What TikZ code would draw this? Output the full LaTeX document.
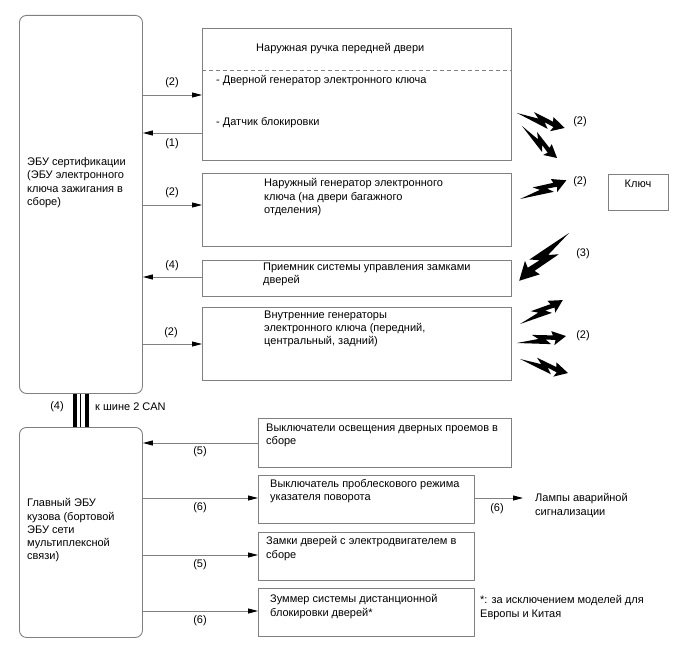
\documentclass[tikz,border=0pt]{standalone}
\usepackage{fontspec}
\setmainfont{Liberation Sans}
\definecolor{framegray}{RGB}{128,128,128}
\usetikzlibrary{arrows.meta,positioning}
\tikzset{
  ecubox/.style={draw=framegray, line width=0.9pt, rounded corners=7pt,
                 anchor=north west, inner sep=0pt, minimum width=123pt},
  partbox/.style={draw=framegray, line width=0.9pt, anchor=north west, inner sep=0pt},
  txt/.style={anchor=north west, inner sep=0pt, align=left},
  num/.style={inner sep=0pt},
  sigline/.style={draw=framegray, line width=0.9pt,
                  -{Triangle[length=10pt,width=5pt,color=black]}},
  bolt/.pic={\fill[black] (0,0) -- (34,6) -- (29,0.5) -- (39,2.5) -- (37,7.5) -- (50,0)
             -- (36,-7) -- (37,-2.5) -- (16,-6) -- (22,-1) -- cycle;}
}
\begin{document}
\begin{tikzpicture}[x=1pt, y=-1pt, font=\fontsize{11}{13.2}\selectfont]
  \useasboundingbox (0,0) rectangle (688,658);
  % Certification ECU and its parts
  \node[ecubox, minimum height=378pt] (certecu) at (19,15) {};
  \node[txt] (certtxt) at (27,157.5)
    {ЭБУ сертификации\\(ЭБУ электронного\\ключа зажигания в\\сборе)};
  \node[partbox, minimum width=309pt, minimum height=132pt] (handle) at (202,28) {};
  \node[txt] (handletitle) at (256,43.5) {Наружная ручка передней двери};
  \node[txt] (doorgen) at (216,75.5) {- Дверной генератор электронного ключа};
  \node[txt] (locksens) at (216,117.5) {- Датчик блокировки};
  \draw[framegray, line width=0.9pt, dash pattern=on 4pt off 3pt]
    (handle.west |- 0,70) -- (handle.east |- 0,70);
  \node[partbox, minimum width=309pt, minimum height=73pt] (trunkgen) at (202,173) {};
  \node[txt] (trunktxt) at (264,178.5)
    {Наружный генератор электронного\\ключа (на двери багажного\\отделения)};
  \node[partbox, minimum width=309pt, minimum height=36pt] (receiver) at (202,260) {};
  \node[txt] (receivertxt) at (263,262.5) {Приемник системы управления замками\\дверей};
  \node[partbox, minimum width=309pt, minimum height=73pt] (innergen) at (202,307) {};
  \node[txt] (innertxt) at (264,310.5)
    {Внутренние генераторы\\электронного ключа (передний,\\центральный, задний)};
  \node[partbox, minimum width=60pt, minimum height=36pt] (key) at (608,174) {};
  \node[num] (keytxt) at (638,184) {Ключ};

  \draw[sigline] (certecu.east |- 0,95) -- (handle.west |- 0,95);
  \node[num] (l1) at (172,83) {(2)};
  \draw[sigline] (handle.west |- 0,133) -- (certecu.east |- 0,133);
  \node[num] (l2) at (172,144) {(1)};
  \draw[sigline] (certecu.east |- 0,205) -- (trunkgen.west |- 0,205);
  \node[num] (l3) at (172,193) {(2)};
  \draw[sigline] (receiver.west |- 0,277) -- (certecu.east |- 0,277);
  \node[num] (l4) at (172,266) {(4)};
  \draw[sigline] (certecu.east |- 0,344) -- (innergen.west |- 0,344);
  \node[num] (l5) at (171,333) {(2)};

  % radio links
  \foreach \ang/\sc/\px/\py in {-17.4/1/517/113, -42.4/0.95/522/126, 22/1/520/199,
      -136.2/1.38/569/233, 29.2/0.98/520/324, 8.1/0.99/517/343, -16.3/1/520/359}
    \pic[rotate=\ang, scale=\sc] at (\px,\py) {bolt};
  \node[num] (w1) at (580,122) {(2)};
  \node[num] (w2) at (580,182) {(2)};
  \node[num] (w3) at (583,254) {(3)};
  \node[num] (w4) at (583,336) {(2)};

  % CAN bus
  \draw[line width=4pt] ([xshift=-5.8pt]certecu.south) -- ([xshift=-5.8pt]certecu.south |- 0,427);
  \draw[line width=1.3pt] ([xshift=-0.5pt]certecu.south) -- ([xshift=-0.5pt]certecu.south |- 0,427);
  \draw[line width=4.5pt] ([xshift=5.8pt]certecu.south) -- ([xshift=5.8pt]certecu.south |- 0,427);
  \node[num] (canno) at (57,407) {(4)};
  \node[num, anchor=west] (cantxt) at (95,407) {к шине 2 CAN};

  % Body ECU and its parts
  \node[ecubox, minimum height=210pt] (bodyecu) at (19,427) {};
  \node[txt] (bodytxt) at (27,498.5)
    {Главный ЭБУ\\кузова (бортовой\\ЭБУ сети\\мультиплексной\\связи)};
  \node[partbox, minimum width=253pt, minimum height=49pt] (courtesy) at (258,418) {};
  \node[txt] (courtesytxt) at (266,423.5) {Выключатели освещения дверных проемов в\\сборе};
  \node[partbox, minimum width=216pt, minimum height=48pt] (hazardsw) at (258,475) {};
  \node[txt] (hazardtxt) at (270,479.5) {Выключатель проблескового режима\\указателя поворота};
  \node[partbox, minimum width=216pt, minimum height=48pt] (doorlock) at (258,532) {};
  \node[txt] (doorlocktxt) at (266,536.5) {Замки дверей с электродвигателем в\\сборе};
  \node[partbox, minimum width=216pt, minimum height=48pt] (buzzer) at (258,588) {};
  \node[txt] (buzzertxt) at (270,594.5) {Зуммер системы дистанционной\\блокировки дверей*};
  \node[txt] (lamps) at (535,493.5) {Лампы аварийной\\сигнализации};
  \node[txt] (footnote) at (480,595.5) {*: за исключением моделей для\\Европы и Китая};

  \draw[sigline] (courtesy.west |- 0,443) -- (bodyecu.east |- 0,443);
  \node[num] (m1) at (200,452) {(5)};
  \foreach \y/\lbl/\tgt in {498/6/hazardsw, 555/5/doorlock, 611/6/buzzer}{
    \draw[sigline] (bodyecu.east |- 0,\y) -- (\tgt.west |- 0,\y);
    \node[num] (m\tgt) at (200,\y+10) {(\lbl)};
  }
  \draw[sigline, shorten >=12pt] (hazardsw.east |- 0,498) -- (lamps.west |- 0,498);
  \node[num] (m6) at (497,509) {(6)};
\end{tikzpicture}
\end{document}
